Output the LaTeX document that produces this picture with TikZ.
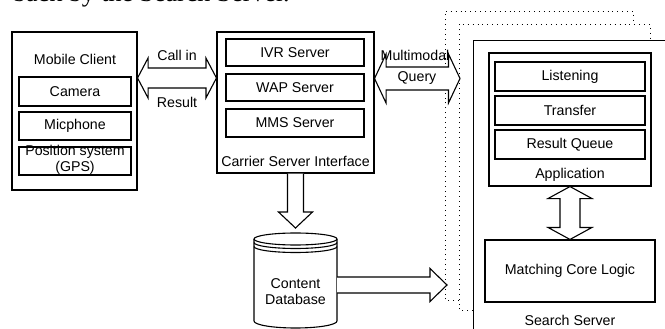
\documentclass[tikz,border=0pt]{standalone}
\usepackage{fontspec}
\setmainfont{Liberation Sans}
\newfontfamily\capfont{Liberation Serif}
\usetikzlibrary{calc}
\tikzset{
  box/.style={draw, line width=1.1pt, inner sep=0pt, rectangle, fill=white, font=\fontsize{14.2}{16}\selectfont, align=center},
  lbl/.style={inner sep=0pt, font=\fontsize{14.2}{16}\selectfont, align=center},
  blk/.style={draw, line width=1.1pt, fill=white, line join=miter},
  dotline/.style={line width=0.9pt, dash pattern=on 0.9pt off 4pt},
}
% horizontal double block arrow: start, end, shaft half, head half, head length
\newcommand\hdblarrow[5]{%
  \draw[blk] (#1) -- ($(#1)+(#5,-#4)$) -- ($(#1)+(#5,-#3)$) -- ($(#2)+(-#5,-#3)$) -- ($(#2)+(-#5,-#4)$) -- (#2)
    -- ($(#2)+(-#5,#4)$) -- ($(#2)+(-#5,#3)$) -- ($(#1)+(#5,#3)$) -- ($(#1)+(#5,#4)$) -- cycle;}
% vertical double block arrow (top to bottom)
\newcommand\vdblarrow[5]{%
  \draw[blk] (#1) -- ($(#1)+(#4,#5)$) -- ($(#1)+(#3,#5)$) -- ($(#2)+(#3,-#5)$) -- ($(#2)+(#4,-#5)$) -- (#2)
    -- ($(#2)+(-#4,-#5)$) -- ($(#2)+(-#3,-#5)$) -- ($(#1)+(-#3,#5)$) -- ($(#1)+(-#4,#5)$) -- cycle;}
% single block arrow downward
\newcommand\vsarrow[5]{%
  \draw[blk] ($(#1)+(-#3,0)$) -- ($(#2)+(-#3,-#5)$) -- ($(#2)+(-#4,-#5)$) -- (#2) -- ($(#2)+(#4,-#5)$) -- ($(#2)+(#3,-#5)$) -- ($(#1)+(#3,0)$);}
% single block arrow rightward
\newcommand\hsarrow[5]{%
  \draw[blk] ($(#1)+(0,-#3)$) -- ($(#2)+(-#5,-#3)$) -- ($(#2)+(-#5,-#4)$) -- (#2) -- ($(#2)+(-#5,#4)$) -- ($(#2)+(-#5,#3)$) -- ($(#1)+(0,#3)$);}
\begin{document}
\begin{tikzpicture}[x=1pt,y=-1pt]
\useasboundingbox (0,0) rectangle (665,329);
\clip (0,0) rectangle (665,329);
\fill[white] (0,0) rectangle (665,329);

% cut-off caption line
\node[anchor=base west, inner sep=0pt, font=\capfont\fontsize{26}{28}\selectfont] (cap) at (13,2) {back by the Search Server.};

% Mobile client
\node[box, minimum width=125pt, minimum height=158pt] (mc) at (74.5,111) {};
\node[lbl] (mct) at (75,59) {Mobile Client};
\node[box, minimum width=112pt, minimum height=29pt] (cam) at (75,91.5) {Camera};
\node[box, minimum width=112pt, minimum height=28pt] (mic) at (75,126) {Micphone};
\node[box, minimum width=112pt, minimum height=28pt] (gpsbox) at (75,161) {};
\node[lbl] (gps) at (75,160) {Position system\\(GPS)};

% Carrier server interface
\node[box, minimum width=157pt, minimum height=141pt] (csi) at (295.5,102.5) {};
\node[box, minimum width=138pt, minimum height=27pt] (ivr) at (295,52.5) {IVR Server};
\node[box, minimum width=138pt, minimum height=27pt] (wap) at (295,87.5) {WAP Server};
\node[box, minimum width=138pt, minimum height=28pt] (mms) at (295,123) {MMS Server};
\node[lbl] (csit) at (295.5,161) {Carrier Server Interface};

% Search server stack
\draw[dotline] (459,300) -- (445,300) -- (445,11) -- (633,11) -- (633,24);
\draw[dotline] (473,310) -- (459,310) -- (459,24) -- (650,24) -- (650,40);
\node[box, minimum width=230pt, minimum height=300pt, anchor=north west] (ss) at (473,40) {};
\node[lbl] (sst) at (570,320) {Search Server};
\node[box, minimum width=162pt, minimum height=133pt] (app) at (570,119.5) {};
\node[box, minimum width=150pt, minimum height=29pt] (lis) at (570,76.5) {Listening};
\node[box, minimum width=150pt, minimum height=29pt] (tra) at (570,110.5) {Transfer};
\node[box, minimum width=150pt, minimum height=29pt] (rq) at (570,144.5) {Result Queue};
\node[lbl] (appt) at (570,175) {Application};
\node[box, minimum width=170pt, minimum height=62pt] (mcl) at (570,271) {Matching Core Logic};

% Content database
\draw[blk] (254,239) -- (254,321) .. controls (254,324.9) and (272.6,328) .. (295.5,328)
  .. controls (318.4,328) and (337,324.9) .. (337,321) -- (337,239);
\draw[blk] (295.5,239) ellipse [x radius=41.5, y radius=6];
\draw[line width=1.1pt] (254,242.5) .. controls (254,245.8) and (272.6,248.5) .. (295.5,248.5)
  .. controls (318.4,248.5) and (337,245.8) .. (337,242.5);
\draw[line width=1.1pt] (254,246.5) .. controls (254,249.8) and (272.6,252.5) .. (295.5,252.5)
  .. controls (318.4,252.5) and (337,249.8) .. (337,246.5);
\node[lbl] (db) at (295.5,292) {Content\\Database};

% connectors
\coordinate (ca) at (mc.east |- 0,78);
\coordinate (cb) at (csi.west |- 0,78);
\hdblarrow{ca}{cb}{10}{20}{10.5}
\node[lbl] (callin) at (177,55) {Call in};
\node[lbl] (res) at (177,102) {Result};

\coordinate (qa) at (csi.east |- 0,78.5);
\coordinate (qb) at (460,78.5);
\hdblarrow{qa}{qb}{11.5}{24.5}{11.5}
\node[lbl] (mm) at (415,55) {Multimodal};
\node[lbl] (qu) at (417,78) {Query};

\coordinate (da) at (csi.south);
\coordinate (db0) at (295.5,228);
\vsarrow{da}{db0}{8}{17}{16}

\coordinate (ra) at (337,285);
\coordinate (rb) at (447,285);
\hsarrow{ra}{rb}{8}{16.5}{17}

\coordinate (va) at (app.south);
\coordinate (vb) at (mcl.north);
\vdblarrow{va}{vb}{10}{22}{12}
\end{tikzpicture}
\end{document}
